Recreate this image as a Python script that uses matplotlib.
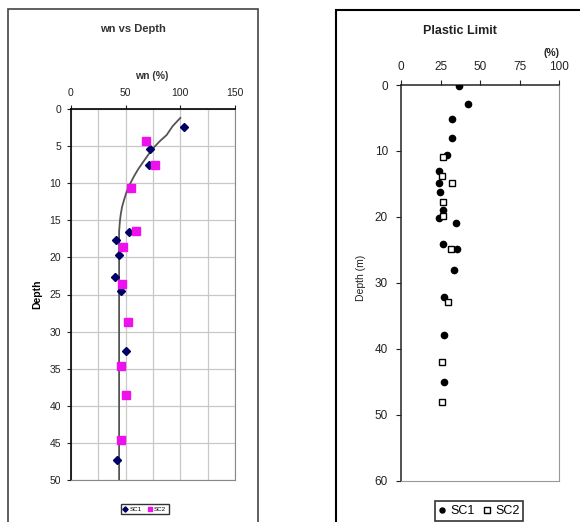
import numpy as np
import matplotlib.pyplot as plt
from matplotlib.patches import Rectangle
from matplotlib.ticker import MultipleLocator

plt.rcParams['font.family'] = ['Liberation Sans', 'DejaVu Sans']

# wn vs depth
wn_sc1 = [103, 72, 71, 53, 41, 44, 40, 46, 50, 42]
d_sc1 = [2.4, 5.4, 7.6, 16.6, 17.6, 19.7, 22.6, 24.5, 32.6, 47.3]
wn_sc2 = [69, 76.5, 55, 59, 48, 46.5, 52, 45.5, 50, 45.5]
d_sc2 = [4.3, 7.5, 10.6, 16.4, 18.6, 23.6, 28.7, 34.6, 38.5, 44.6]
trend_wn = [100, 93, 87.5, 81.5, 76.3, 71, 66.2, 61.5, 57.5, 54, 51, 48.6, 46.7, 45.6, 44.8, 44.3, 44, 44]
trend_d = [1.2, 2.3, 3.5, 4.3, 5.1, 6.1, 7.1, 8.1, 9.1, 10.1, 11.1, 12.2, 13.2, 14.1, 15, 15.9, 16.5, 50]

# plastic limit
pl_sc1 = [36.6, 42.5, 32, 32, 29, 24.2, 24.2, 24.6, 26.5, 24.2, 34.7, 26.5, 35.2, 33.3, 27.2, 27.2, 27.2]
pd_sc1 = [0.2, 2.9, 5.1, 8, 10.6, 13.1, 14.9, 16.2, 19, 20.2, 20.9, 24.1, 24.9, 28.1, 32.1, 37.9, 45]
pl_sc2 = [26.5, 25.7, 32.4, 26.3, 26.8, 31.4, 29.7, 25.9, 25.9]
pd_sc2 = [10.9, 13.8, 14.8, 17.8, 19.8, 24.9, 32.9, 42, 48]

W, H = 580, 522
fig = plt.figure(figsize=(W / 100, H / 100), dpi=100)

def fx(px): return px / W
def fy(py): return 1 - py / H

# outer chart frames
fig.patches.append(Rectangle((fx(7.5), -0.1), fx(258) - fx(7.5), fy(9) + 0.1,
                             transform=fig.transFigure, fill=False, ec='#444444', lw=1.2))
fig.patches.append(Rectangle((fx(336), -0.1), 0.6, fy(10) + 0.1,
                             transform=fig.transFigure, fill=False, ec='black', lw=1.5))

# ---- left chart
ax1 = fig.add_axes([fx(71), fy(480), fx(235) - fx(71), (480 - 109) / H])
ax1.plot(trend_wn, trend_d, color='#555555', lw=1.3, zorder=2)
ax1.plot(wn_sc1, d_sc1, 'D', color='#000066', ms=4.5, ls='none', label='SC1', zorder=3)
ax1.plot(wn_sc2, d_sc2, 's', color='#ee11ee', ms=5.5, ls='none', label='SC2', zorder=3)
ax1.set_xlim(0, 150)
ax1.set_ylim(50, 0)
ax1.xaxis.tick_top()
ax1.xaxis.set_major_locator(MultipleLocator(50))
ax1.xaxis.set_minor_locator(MultipleLocator(25))
ax1.yaxis.set_major_locator(MultipleLocator(5))
ax1.grid(True, which='both', color='#c8c8c8', lw=0.9)
ax1.tick_params(which='minor', length=0)
ax1.tick_params(which='major', labelsize=7.5, length=3, direction='out', colors='#222222', pad=4)
ax1.tick_params(axis='x', pad=5)
ax1.set_axisbelow(True)
for s in ['bottom', 'right']:
    ax1.spines[s].set_color('#888888')
for s in ['top', 'left']:
    ax1.spines[s].set_color('black')
    ax1.spines[s].set_linewidth(1.2)
fig.text(fx(133), fy(29), 'wn vs Depth', ha='center', va='center', fontsize=8, fontweight='bold', color='#333333')
fig.text(fx(152), fy(76), 'wn (%)', ha='center', va='center', fontsize=7.5, fontweight='bold', color='#333333')
fig.text(fx(37), fy(294), 'Depth', ha='center', va='center', rotation=90, fontsize=7.5, fontweight='bold')
leg1 = fig.legend(handles=ax1.get_lines()[1:], loc='center', bbox_to_anchor=(fx(144.5), fy(509)),
                  ncol=2, fontsize=4.5, frameon=True, fancybox=False, edgecolor='black',
                  handlelength=0.6, handletextpad=0.4, columnspacing=1.0, markerscale=0.6,
                  borderpad=0.4)
leg1.get_frame().set_linewidth(1.0)

# ---- right chart
ax2 = fig.add_axes([fx(401), fy(480.7), fx(559.3) - fx(401), (480.7 - 85) / H])
ax2.plot(pl_sc1, pd_sc1, 'o', color='black', ms=4.5, ls='none', label='SC1', zorder=3)
ax2.plot(pl_sc2, pd_sc2, 's', mfc='white', mec='black', mew=1.0, ms=5, ls='none', label='SC2', zorder=3)
ax2.set_xlim(0, 100)
ax2.set_ylim(60, 0)
ax2.xaxis.tick_top()
ax2.xaxis.set_major_locator(MultipleLocator(25))
ax2.yaxis.set_major_locator(MultipleLocator(10))
ax2.tick_params(labelsize=8.5, length=3.5, direction='out', colors='#222222', pad=5)
ax2.tick_params(axis='y', pad=6)
for s in ['bottom', 'right']:
    ax2.spines[s].set_color('#999999')
for s in ['top', 'left']:
    ax2.spines[s].set_color('#222222')
    ax2.spines[s].set_linewidth(1.1)
fig.text(fx(460), fy(31), 'Plastic Limit', ha='center', va='center', fontsize=9, fontweight='bold', color='#222222')
fig.text(fx(552), fy(53), '(%)', ha='center', va='center', fontsize=7.5, fontweight='bold', color='#222222')
fig.text(fx(361), fy(278), 'Depth (m)', ha='center', va='center', rotation=90, fontsize=7.5, color='#222222')
leg2 = fig.legend(handles=ax2.get_lines(), loc='center', bbox_to_anchor=(fx(479), fy(511)),
                  ncol=2, fontsize=9, frameon=True, fancybox=False, edgecolor='black',
                  handlelength=0.6, handletextpad=0.4, columnspacing=0.6, markerscale=0.8,
                  borderpad=0.3)
leg2.get_frame().set_linewidth(1.2)

fig.savefig('out.png', dpi=100)
